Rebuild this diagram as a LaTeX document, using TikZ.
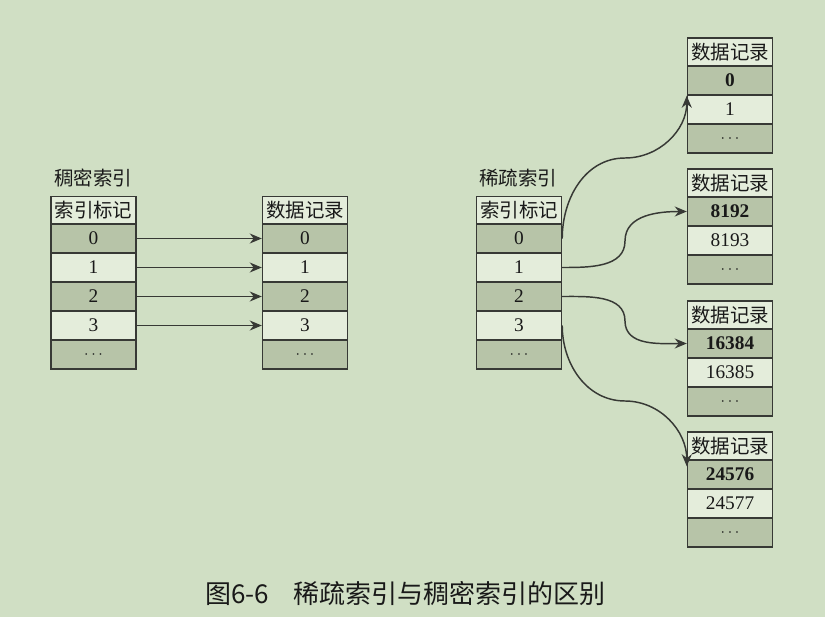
\documentclass[tikz,border=0pt]{standalone}
\usepackage{fontspec}
\setmainfont{Liberation Serif}
\newfontfamily\cjk{Noto Sans CJK SC}
\usetikzlibrary{arrows.meta,calc}
\definecolor{bgc}{RGB}{208,223,196}
\definecolor{darkc}{RGB}{183,196,168}
\definecolor{lightc}{RGB}{228,237,219}
\definecolor{linec}{RGB}{55,57,53}
\definecolor{textc}{RGB}{25,25,25}
\newcommand\dotsx{{\fontsize{13}{13}\selectfont$\cdots$}}
\begin{document}
\begin{tikzpicture}[x=0.75pt,y=-0.75pt,
  cell/.style={draw=linec,line width=1.1pt,minimum width=63.75pt,minimum height=21.75pt,inner sep=0pt,text=textc,font=\fontsize{14.5}{16}\selectfont},
  dk/.style={cell,fill=darkc},
  lt/.style={cell,fill=lightc},
  hd/.style={lt,minimum height=21pt,font=\cjk\fontsize{14.6}{16}\selectfont},
  bf/.style={font=\fontsize{14.5}{16}\selectfont\bfseries},
  arr/.style={draw=linec,line width=1.1pt,-{Stealth[length=9pt,width=7.5pt]}},
  ttl/.style={font=\cjk\fontsize{14.6}{16}\selectfont,anchor=west,inner sep=0pt,text=textc}]
\fill[bgc] (0,0) rectangle (825,617);
\useasboundingbox (0,0) rectangle (825,617);

% dense index
\node[ttl] (t1) at (54,178) {稠密索引};
\node[hd] (ih) at (93.5,210.5) {索引标记};
\node[dk] (i0) at (93.5,238.5) {0};
\node[lt] (i1) at (93.5,267.5) {1};
\node[dk] (i2) at (93.5,296.5) {2};
\node[lt] (i3) at (93.5,325.5) {3};
\node[dk] (i4) at (93.5,354.5) {\dotsx};

\node[hd] (dh) at (305,210.5) {数据记录};
\node[dk] (d0) at (305,238.5) {0};
\node[lt] (d1) at (305,267.5) {1};
\node[dk] (d2) at (305,296.5) {2};
\node[lt] (d3) at (305,325.5) {3};
\node[dk] (d4) at (305,354.5) {\dotsx};

\foreach \k in {0,1,2,3}{\draw[arr] (i\k.east) -- (d\k.west);}

% sparse index
\node[ttl] (t2) at (479,178) {稀疏索引};
\node[hd] (sh) at (519,210.5) {索引标记};
\node[dk] (s0) at (519,238.5) {0};
\node[lt] (s1) at (519,267.5) {1};
\node[dk] (s2) at (519,296.5) {2};
\node[lt] (s3) at (519,325.5) {3};
\node[dk] (s4) at (519,354.5) {\dotsx};

% data tables
\node[hd] (ah) at (730,52) {数据记录};
\node[dk,bf] (a0) at (730,80.5) {0};
\node[lt] (a1) at (730,109.5) {1};
\node[dk] (a2) at (730,138.5) {\dotsx};

\node[hd] (bh) at (730,183) {数据记录};
\node[dk,bf] (b0) at (730,211.5) {8192};
\node[lt] (b1) at (730,240.5) {8193};
\node[dk] (b2) at (730,269.5) {\dotsx};

\node[hd] (ch) at (730,315) {数据记录};
\node[dk,bf] (c0) at (730,343.5) {16384};
\node[lt] (c1) at (730,372.5) {16385};
\node[dk] (c2) at (730,401.5) {\dotsx};

\node[hd] (eh) at (730,446) {数据记录};
\node[dk,bf] (e0) at (730,474.5) {24576};
\node[lt] (e1) at (730,503.5) {24577};
\node[dk] (e2) at (730,532.5) {\dotsx};

% sparse connectors
\coordinate (m0) at (625,158);
\coordinate (m1) at (625,241);
\coordinate (m2) at (625,321);
\coordinate (m3) at (625,401);
\coordinate (x3) at ($(e0.north west)+(0,7)$);
\draw[arr] (s0.east) to[out=90,in=180] (m0) to[out=0,in=-90] (a0.south west);
\draw[arr] (s1.east) to[out=0,in=-90] (m1) to[out=90,in=180] (b0.west);
\draw[arr] (s2.east) to[out=0,in=90] (m2) to[out=-90,in=180] (c0.west);
\draw[arr] (s3.east) to[out=-90,in=180] (m3) to[out=0,in=90] (x3);

% caption
\node[anchor=west,inner sep=0pt,text=textc,font=\cjk\fontsize{19.5}{22}\selectfont] (cap) at (205,594) {图6-6\hspace{18pt}稀疏索引与稠密索引的区别};
\end{tikzpicture}
\end{document}
